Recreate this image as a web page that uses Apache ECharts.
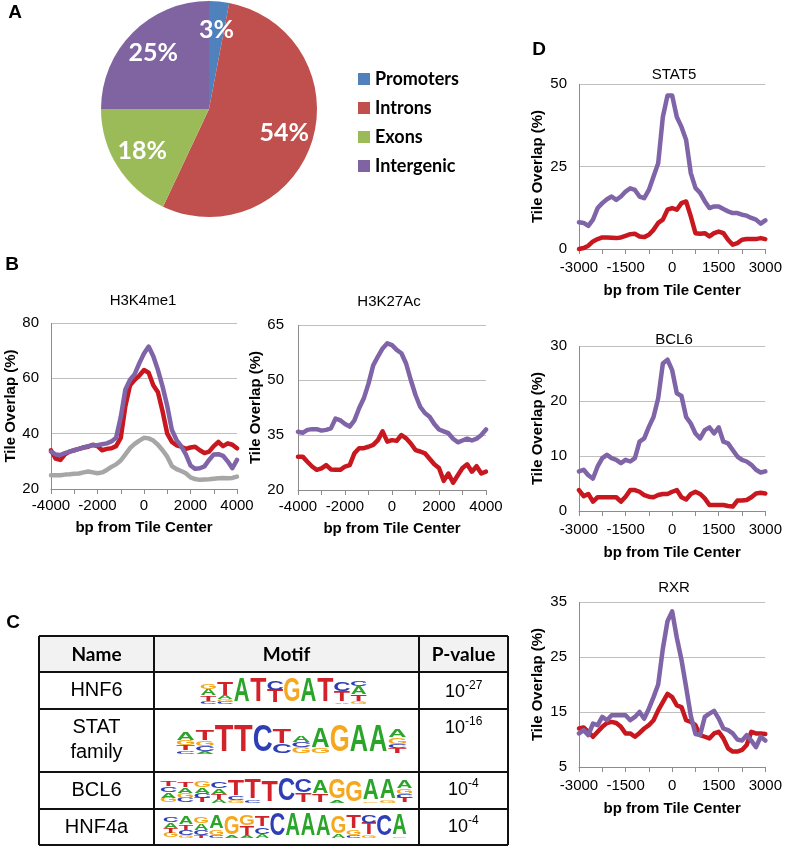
<!DOCTYPE html>
<html><head><meta charset="utf-8">
<script src="https://cdn.jsdelivr.net/npm/echarts@6/dist/echarts.min.js"></script>
<style>html,body{margin:0;padding:0;background:#fff}#c{width:785px;height:848px}</style>
</head><body><div id="c"></div>
<script>
// ---------- DATA ----------
const pieNames = ['Promoters', 'Introns', 'Exons', 'Intergenic'];
const pieValues = [3, 54, 18, 25];

const bpB = [-4000,-3800,-3600,-3400,-3200,-3000,-2800,-2600,-2400,-2200,-2000,-1800,-1600,-1400,-1200,-1000,-800,-600,-400,-200,0,200,400,600,800,1000,1200,1400,1600,1800,2000,2200,2400,2600,2800,3000,3200,3400,3600,3800,4000];
const bpD = [-3000,-2850,-2700,-2550,-2400,-2250,-2100,-1950,-1800,-1650,-1500,-1350,-1200,-1050,-900,-750,-600,-450,-300,-150,0,150,300,450,600,750,900,1050,1200,1350,1500,1650,1800,1950,2100,2250,2400,2550,2700,2850,3000];
const xTicksB = ['-4000', '-2000', '0', '2000', '4000'];
const xTicksD = ['-3000', '-1500', '0', '1500', '3000'];

const h3k4me1Purple = [33.5,32.5,32.3,33,33.5,34,34.5,35,35.5,35.8,35.8,36.2,36.5,37.2,38.5,46,56,59.5,61.5,65.5,69,71.5,68,63,57,50,41.3,37.7,35.5,32.5,28.5,27.3,27.5,28.2,30.5,32.5,32.6,32,30,27.5,30.5];
const h3k4me1Red = [34,31,30.5,32.5,33.5,34,34.5,35,35.3,36,35.5,34,34.5,34.7,35.5,38.5,50,57.5,59.5,61,63,62,57.5,55,48,40,37,35.8,35.3,34.5,35,35.3,34,33,33.5,35.5,37,35.5,36.5,36,34.7];
const h3k4me1Gray = [25,25,25,25.2,25.3,25.5,25.6,26,26.3,26,25.7,26,26.9,28,28.9,30.3,32.5,34.8,36.3,37.5,38.5,38.3,37.5,36,34,31.7,28.3,27.2,26.5,25.7,24.2,23.6,23.3,23.4,23.5,23.7,23.9,24,23.9,24,24.5];
const h3k27acPurple = [35.9,35.6,36.4,36.6,36.6,36.2,36.4,36.8,39.5,39,38,37.3,39,42.3,45,49,54,56.4,58.6,60,59.5,58.2,57.3,54.5,50,45.9,42.7,41,40,38,36.5,36,35.5,34,33,33.5,34,33.5,34,35,36.5];
const h3k27acRed = [29.1,29.1,27.7,26.4,25.5,25.9,26.8,25.6,25.5,25.5,26.4,26.8,30,31.4,31.4,31.8,32.3,33.6,36,33.2,33.6,33.4,35,34.1,32.7,30.9,30.5,30,28.5,27,26,22.5,24.5,22,24,26,27,25,26.5,24.5,25];

const stat5Purple = [8.1,7.9,7,8.9,12.4,13.9,15.1,15.9,14.9,15.9,17.4,18.4,17.9,15.9,15.4,17.9,22,26,40,46.5,46.5,40,37,33,23,18.5,17,14.5,12.4,12.9,12.9,12.1,11.4,10.9,10.9,10.4,10.1,9.4,8.9,7.7,8.7];
const stat5Red = [0,0.3,1,2.3,3,3.5,3.5,3.4,3.3,3.5,4,4.5,4.6,3.8,3.6,4.3,5.8,7.9,8.9,11.9,12.4,11.9,13.9,14.4,9.9,4.8,4.6,4.8,3.8,4.8,5.3,4.8,2.8,1.3,1.8,2.8,3,3,3,3.3,3];
const bcl6Purple = [7.2,7.5,6.5,5.9,8.1,9.6,10.2,9.6,9.3,8.7,9.3,9,9.6,12.6,13.2,15.3,17.1,20.5,26.8,27.5,25.6,21.4,20.9,17.1,15.9,14.1,13.2,14.7,15.2,14.1,15.2,12.6,12.3,11.1,9.9,9.3,9,8.4,7.5,7,7.2];
const bcl6Red = [3.8,2.7,3.1,1.7,2.5,2.5,2.5,2.5,2.5,1.7,2.6,3.8,3.8,3.5,2.9,2.6,2.5,2.9,3.1,3.1,3.5,3.8,2.5,2.1,3.1,3.5,3.1,2.3,1.1,1.1,1.1,1.1,0.9,0.8,1.9,1.9,2,2.5,3.2,3.3,3.2];
const rxrPurple = [11.1,11.7,10.8,12.9,12.6,14.1,13.5,14.4,14.4,14.4,14.4,13.5,14.1,15,13.8,15.6,17.7,20,26.5,31.5,33.3,28.5,24.5,19.5,14.3,11,10.8,14.1,14.7,15.2,13.8,12,11.7,11.1,10,9.8,10.8,9.8,8.6,10.5,9.8];
const rxrRed = [12,12.2,11.4,10.5,11.4,12.3,13,13.2,13,12.3,11.1,11.1,10.5,11.2,12,12.6,13.5,15.3,16.8,18.3,17.7,16.2,15.9,13.5,13.2,12.6,10.8,10.5,10.2,11.1,11.4,10.2,8.4,7.8,7.8,8.1,9,11.4,11.1,11.1,11];

const tableHeader = ['Name', 'Motif', 'P-value'];
const motifNames = ['HNF6', 'STAT\nfamily', 'BCL6', 'HNF4a'];
const pExponents = ['-27', '-16', '-4', '-4'];
// motif columns: letters top->bottom with relative heights
const motifHNF6 = [
  [['G',.22],['A',.25],['T',.22],['C',.12]],
  [['T',.55],['A',.15],['G',.1],['C',.08]],
  [['A',1]], [['T',1]],
  [['C',.4],['T',.55]],
  [['G',1]], [['A',1]], [['T',1]],
  [['C',.4],['T',.45],['A',.06]],
  [['C',.2],['A',.35],['T',.28],['G',.1]]
];
const motifSTAT = [
  [['A',.3],['G',.2],['T',.2],['C',.12]],
  [['T',.4],['G',.2],['C',.2],['A',.1]],
  [['T',1]], [['T',1]], [['C',1]],
  [['T',.55],['C',.35]],
  [['A',.25],['C',.2],['G',.25]],
  [['A',.75],['G',.2]],
  [['G',1]], [['A',1]], [['A',1]],
  [['A',.3],['G',.25],['C',.15],['T',.2]]
];
const motifBCL6 = [
  [['T',.25],['C',.25],['A',.25],['G',.2]],
  [['T',.25],['A',.25],['G',.2],['C',.2]],
  [['G',.3],['A',.25],['C',.2],['T',.2]],
  [['C',.3],['A',.25],['T',.2],['A',.15]],
  [['T',.7],['C',.15],['G',.1]],
  [['T',.85],['C',.1]],
  [['T',.92]], [['C',1]],
  [['C',.55],['T',.4]],
  [['A',.6],['T',.35]],
  [['G',.85],['A',.1]], [['G',.9]],
  [['A',.9],['G',.05]], [['A',.85],['G',.1]],
  [['A',.35],['G',.25],['C',.15],['T',.2]]
];
const motifHNF4a = [
  [['C',.25],['A',.25],['T',.2],['G',.2]],
  [['A',.35],['T',.25],['C',.2],['G',.1]],
  [['G',.3],['A',.3],['C',.2],['T',.1]],
  [['A',.55],['G',.25],['C',.1]],
  [['G',.8],['A',.1]],
  [['G',.45],['T',.4],['A',.1]],
  [['T',.45],['C',.3],['A',.15]],
  [['C',1]], [['A',1]], [['A',1]], [['A',.95]],
  [['G',.75],['A',.15]],
  [['T',.6],['G',.25],['C',.1]],
  [['C',.35],['T',.5],['G',.1]],
  [['C',.95]], [['A',.9],['G',.05]]
];

// ---------- STYLE ----------
const pieColors = ['#4F81BD', '#C0504D', '#9BBB59', '#8064A2'];
const PURPLE = '#8064A8', RED = '#C8171E', GRAY = '#A6A6A6';
const LETTER_COLORS = {A: '#2AA52A', C: '#2E3FB5', G: '#F5A81E', T: '#D2232A'};
const INK = {A: 0.70, C: 0.64, G: 0.69, T: 0.58};
const SANS = '"Liberation Sans", Arial, sans-serif';
const CAL = 'Lato, "Liberation Sans", sans-serif';
const AXIS_GRAY = '#8C8C8C';

const grids = [
  {left: 51, top: 323, width: 186, height: 166},
  {left: 298, top: 325, width: 188, height: 165},
  {left: 579, top: 84, width: 190, height: 165},
  {left: 579, top: 346, width: 190, height: 165},
  {left: 579, top: 602, width: 190, height: 165}
];
const yRanges = [[20, 80, 20], [20, 65, 15], [0, 50, 25], [0, 30, 10], [5, 35, 10]];
const xMins = [-4000, -4000, -3000, -3000, -3000];

function xAxisFor(i) {
  const isB = i < 2;
  const ticks = isB ? xTicksB : xTicksD;
  return {
    type: 'value', gridIndex: i, position: 'bottom',
    min: xMins[i], max: -xMins[i], interval: isB ? 1000 : 750,
    axisLine: {show: true, onZero: false, lineStyle: {color: AXIS_GRAY, width: 1}},
    axisTick: {show: true, length: 5, lineStyle: {color: AXIS_GRAY}},
    splitLine: {show: false},
    axisLabel: {margin: isB ? 9 : 11, color: '#000', fontSize: 15, fontFamily: SANS,
      formatter: v => ticks.indexOf(String(v)) >= 0 ? String(v) : ''},
    name: 'bp from Tile Center', nameLocation: 'middle', nameGap: isB ? 31 : 34,
    nameTextStyle: {fontWeight: 'bold', fontSize: 15, fontFamily: SANS, color: '#000'}
  };
}
function yAxisFor(i) {
  const r = yRanges[i];
  return {
    type: 'value', gridIndex: i, position: 'left',
    min: r[0], max: r[1], interval: r[2],
    axisLine: {show: false, onZero: false},
    axisTick: {show: false},
    splitLine: {show: true, lineStyle: {color: '#BFBFBF', width: 1}},
    axisLabel: {margin: i === 1 ? 14 : 12, color: '#000', fontSize: 15, fontFamily: SANS},
    name: 'Tile Overlap (%)', nameLocation: 'middle', nameGap: i >= 2 ? 34 : 33,
    nameTextStyle: {fontWeight: 'bold', fontSize: 15, fontFamily: SANS, color: '#000'}
  };
}
function lineSeries(i, xs, ys, color, withAxisLine) {
  const s = {
    type: 'line', xAxisIndex: i, yAxisIndex: i, symbol: 'none', silent: true, clip: false,
    data: xs.map((x, k) => [x, ys[k]]),
    lineStyle: {color: color, width: 4.5, cap: 'round', join: 'round'}
  };
  if (withAxisLine) {
    // left value-axis line drawn at the x-axis minimum through the library's scale
    s.markLine = {silent: true, symbol: ['none', 'none'], label: {show: false}, z: 1,
      lineStyle: {color: AXIS_GRAY, type: 'solid', width: 1}, emphasis: {disabled: true},
      data: [{xAxis: xMins[i]}]};
  }
  return s;
}

// ---------- GRAPHIC (labels, titles, table, motifs) ----------
const g = [];
function txt(x, y, text, font, align) {
  g.push({type: 'text', x: x, y: y, silent: true,
    style: {text: text, font: font, fill: '#000', align: align || 'center', verticalAlign: 'middle', lineHeight: 25}});
}
txt(15, 13, 'A', 'bold 19px ' + SANS);
txt(12, 265, 'B', 'bold 19px ' + SANS);
txt(13, 623, 'C', 'bold 19px ' + SANS);
txt(539, 50, 'D', 'bold 19px ' + SANS);
txt(143, 301, 'H3K4me1', '15px ' + SANS);
txt(389, 302, 'H3K27Ac', '15px ' + SANS);
txt(674, 75, 'STAT5', '15px ' + SANS);
txt(674, 340, 'BCL6', '15px ' + SANS);
txt(674, 588, 'RXR', '15px ' + SANS);

const tX = [39, 154, 419, 508];
const tY = [636, 672, 709, 772, 809, 845];
g.push({type: 'rect', silent: true, shape: {x: tX[0], y: tY[0], width: tX[3] - tX[0], height: tY[1] - tY[0]}, style: {fill: '#F2F2F2'}});
tableHeader.forEach((h, i) => txt((tX[i] + tX[i + 1]) / 2, (tY[0] + tY[1]) / 2 + 1, h, 'bold 19px ' + CAL));
const nameY = [690, 740, 790, 827];
motifNames.forEach((n, i) => txt((tX[0] + tX[1]) / 2, nameY[i], n, '20px ' + SANS));
const pY = [692, 728, 790, 827];
pExponents.forEach((e, i) => {
  const wBase = 20, wSup = e.length === 3 ? 17 : 11;
  const left = (tX[2] + tX[3]) / 2 - (wBase + wSup) / 2;
  txt(left, pY[i], '10', '18px ' + SANS, 'left');
  txt(left + wBase, pY[i] - 6, e, '12px ' + SANS, 'left');
});
function motif(cols, x0, x1, yTop, yBot) {
  const w = (x1 - x0) / cols.length, H = yBot - yTop, fs = 40;
  cols.forEach((col, i) => {
    let yb = yBot;
    const cx = x0 + w * (i + 0.5);
    for (let k = col.length - 1; k >= 0; k--) {
      const L = col[k][0], h = col[k][1] * H;
      g.push({type: 'text', silent: true, x: cx, y: yb - h / 2,
        scaleX: (w * 0.92) / (INK[L] * fs), scaleY: h / (0.72 * fs),
        style: {text: L, font: 'bold 40px ' + SANS, fill: LETTER_COLORS[L], align: 'center', verticalAlign: 'middle'}});
      yb -= h;
    }
  });
}
motif(motifHNF6, 200, 367, 680, 704);
motif(motifSTAT, 176, 407, 728, 754);
motif(motifBCL6, 160, 413, 780, 803);
motif(motifHNF4a, 163, 407, 815, 838);
tX.forEach(x => g.push({type: 'line', silent: true, shape: {x1: x, y1: tY[0], x2: x, y2: tY[5]}, style: {stroke: '#111', lineWidth: 2}}));
tY.forEach(y => g.push({type: 'line', silent: true, shape: {x1: tX[0], y1: y, x2: tX[3], y2: y}, style: {stroke: '#111', lineWidth: 2}}));

// ---------- CHART ----------
const chart = echarts.init(document.getElementById('c'), null, {renderer: 'canvas', width: 785, height: 848});
chart.setOption({
  animation: false,
  backgroundColor: '#fff',
  legend: {
    orient: 'vertical', left: 353, top: 65, itemWidth: 12, itemHeight: 12, itemGap: 11, icon: 'rect',
    data: pieNames, selectedMode: false,
    textStyle: {fontFamily: CAL, fontWeight: 'bold', fontSize: 18, color: '#000'}
  },
  grid: grids,
  xAxis: grids.map((_, i) => xAxisFor(i)),
  yAxis: grids.map((_, i) => yAxisFor(i)),
  series: [
    {type: 'pie', center: [209, 109], radius: 108, startAngle: 90, clockwise: true, silent: true,
      label: {show: false}, labelLine: {show: false}, itemStyle: {borderWidth: 0},
      data: pieNames.map((n, i) => ({name: n, value: pieValues[i], itemStyle: {color: pieColors[i]}}))},
    {type: 'pie', center: [209, 109], radius: [44, 108], startAngle: 90, clockwise: true, silent: true,
      legendHoverLink: false,
      label: {show: true, position: 'inside', formatter: '{c}%', color: '#fff', fontFamily: CAL, fontWeight: 'bold', fontSize: 25},
      labelLine: {show: false},
      itemStyle: {color: 'rgba(0,0,0,0)', borderWidth: 0},
      data: pieNames.map((n, i) => ({name: n, value: pieValues[i]}))},
    lineSeries(0, bpB, h3k4me1Gray, GRAY, true),
    lineSeries(0, bpB, h3k4me1Red, RED),
    lineSeries(0, bpB, h3k4me1Purple, PURPLE),
    lineSeries(1, bpB, h3k27acRed, RED, true),
    lineSeries(1, bpB, h3k27acPurple, PURPLE),
    lineSeries(2, bpD, stat5Red, RED, true),
    lineSeries(2, bpD, stat5Purple, PURPLE),
    lineSeries(3, bpD, bcl6Red, RED, true),
    lineSeries(3, bpD, bcl6Purple, PURPLE),
    lineSeries(4, bpD, rxrRed, RED, true),
    lineSeries(4, bpD, rxrPurple, PURPLE)
  ],
  graphic: {elements: g}
});
</script></body></html>
